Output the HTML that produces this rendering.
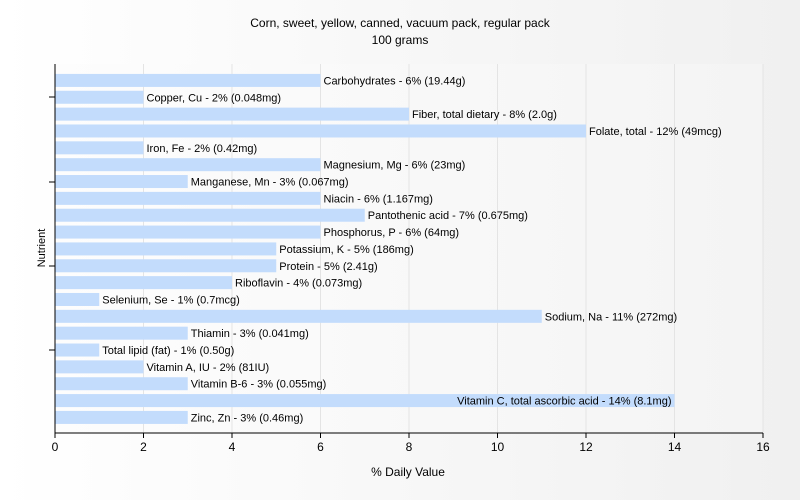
<!DOCTYPE html>
<html><head><meta charset="utf-8"><style>
body{margin:0;background:#fff}
svg{display:block;font-family:"Liberation Sans",Arial,sans-serif}
</style></head><body>
<svg id="c" width="800" height="500">
<defs>
<linearGradient id="bg" x1="0" x2="1" y1="0" y2="0"><stop offset="0" stop-color="#ffffff"/><stop offset="1" stop-color="#f0f0f0"/></linearGradient>
<linearGradient id="pb" x1="0" x2="1" y1="0" y2="0"><stop offset="0" stop-color="#fdfdfd"/><stop offset="1" stop-color="#f4f4f4"/></linearGradient>
</defs>
<rect width="800" height="500" fill="url(#bg)"/>
<rect x="55" y="64" width="708" height="369" fill="url(#pb)"/>
<text x="400" y="27" text-anchor="middle" font-size="12">Corn, sweet, yellow, canned, vacuum pack, regular pack</text>
<text x="400" y="44" text-anchor="middle" font-size="12">100 grams</text>
<text x="408" y="476" text-anchor="middle" font-size="12">% Daily Value</text>
<text transform="translate(45,248) rotate(-90)" text-anchor="middle" font-size="11">Nutrient</text>
<g id="grid"></g><g id="bars"></g><g id="axes"></g>
</svg>
<script>
const categories=["Carbohydrates","Copper, Cu","Fiber, total dietary","Folate, total","Iron, Fe","Magnesium, Mg","Manganese, Mn","Niacin","Pantothenic acid","Phosphorus, P","Potassium, K","Protein","Riboflavin","Selenium, Se","Sodium, Na","Thiamin","Total lipid (fat)","Vitamin A, IU","Vitamin B-6","Vitamin C, total ascorbic acid","Zinc, Zn"];
const values=[6,2,8,12,2,6,3,6,7,6,5,5,4,1,11,3,1,2,3,14,3];
const amounts=["19.44g","0.048mg","2.0g","49mcg","0.42mg","23mg","0.067mg","1.167mg","0.675mg","64mg","186mg","2.41g","0.073mg","0.7mcg","272mg","0.041mg","0.50g","81IU","0.055mg","8.1mg","0.46mg"];
const xTicks=[0,2,4,6,8,10,12,14,16];
const NS="http://www.w3.org/2000/svg";
const x0=55,x1=763,xmax=16,yTop=72,band=16.85,bh=13,plotBottom=433;
const X=v=>x0+(x1-x0)*v/xmax;
const Y=i=>yTop+band*i+band/2;
function mk(t,a,p){const e=document.createElementNS(NS,t);for(const k in a)e.setAttribute(k,a[k]);p.appendChild(e);return e;}
const grid=document.getElementById('grid'),bars=document.getElementById('bars'),axes=document.getElementById('axes');
xTicks.forEach(t=>{
 const g=mk('line',{x1:X(t),x2:X(t),y1:64,y2:plotBottom,stroke:'#e4e4e4'},grid);
 
 
 const tk=mk('line',{x1:X(t),x2:X(t),y1:plotBottom,y2:plotBottom+5,stroke:'#000'},axes);
 
 
 const tl=mk('text',{x:X(t),y:plotBottom+18,'text-anchor':'middle','font-size':12},axes);
 tl.textContent=t;
 
 
});
categories.forEach((c,i)=>{
 const r=mk('rect',{x:x0,y:Y(i)-bh/2,width:X(values[i])-x0,height:bh,fill:'#c3dcfc'},bars);
 
 
 const label=c+' - '+values[i]+'% ('+amounts[i]+')';
 const t=mk('text',{x:X(values[i])+3,y:Y(i)+4,'font-size':11},bars);
 t.textContent=label;
 
 
 if(X(values[i])+3+t.getComputedTextLength()>x1){t.setAttribute('x',X(values[i])-3);t.setAttribute('text-anchor','end');}
});
[97,182,266,350].forEach((y,k)=>{
 const l=mk('line',{x1:49,x2:55,y1:y,y2:y,stroke:'#000'},axes);
 
 
});
let a=mk('line',{x1:x0,x2:x0,y1:64,y2:plotBottom,stroke:'#000'},axes);


a=mk('line',{x1:x0,x2:x1,y1:plotBottom,y2:plotBottom,stroke:'#000'},axes);


</script>
</body></html>
